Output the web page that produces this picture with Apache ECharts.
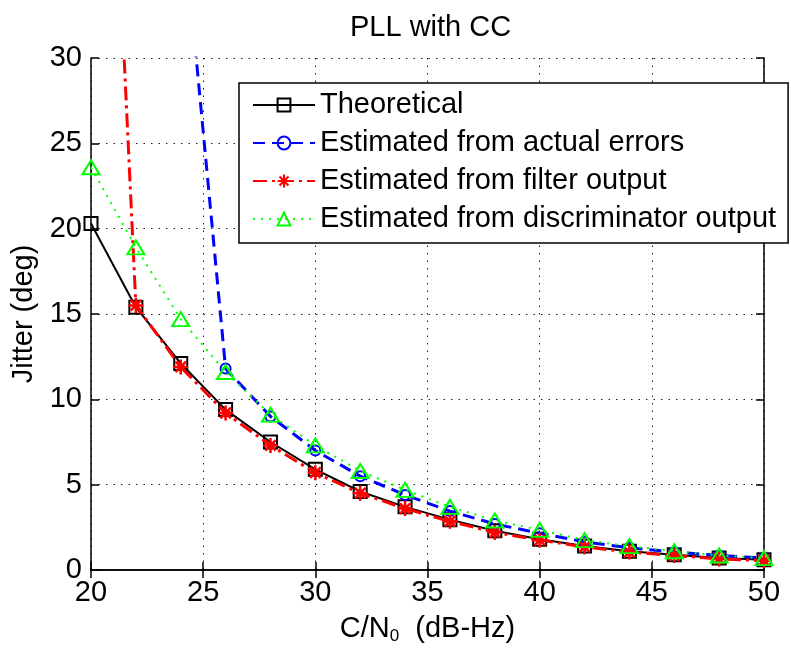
<!DOCTYPE html>
<html>
<head>
<meta charset="utf-8">
<script src="https://cdn.jsdelivr.net/npm/echarts@6/dist/echarts.min.js"></script>
<style>
  html, body { margin: 0; padding: 0; background: #fff; }
  #chart { width: 791px; height: 650px; }
</style>
</head>
<body>
<div id="chart"></div>
<script>
// C/N0 values (dB-Hz)
const cn0 = [20, 22, 24, 26, 28, 30, 32, 34, 36, 38, 40, 42, 44, 46, 48, 50];

// jitter (deg)
const theoretical = [20.3, 15.4, 12.1, 9.4, 7.5, 5.9, 4.6, 3.7, 2.95, 2.3, 1.8, 1.4, 1.1, 0.9, 0.7, 0.6];
const fromActualErrors = [null, null, 39.6, 11.8, 9.0, 7.0, 5.5, 4.4, 3.45, 2.7, 2.15, 1.65, 1.3, 1.05, 0.85, 0.7];
const fromFilterOutput = [71, 15.5, 11.9, 9.2, 7.3, 5.7, 4.5, 3.6, 2.85, 2.2, 1.75, 1.35, 1.05, 0.85, 0.65, 0.55];
const fromDiscriminator = [23.6, 18.9, 14.7, 11.6, 9.1, 7.3, 5.8, 4.7, 3.7, 2.9, 2.35, 1.75, 1.4, 1.1, 0.85, 0.7];

const seriesNames = [
  "Theoretical",
  "Estimated from actual errors",
  "Estimated from filter output",
  "Estimated from discriminator output",
];

const xTicks = { min: 20, max: 50, interval: 5 };
const yTicks = { min: 0, max: 30, interval: 5 };

const FONT = "'Liberation Sans', Arial, sans-serif";
const FS = 29;

// asterisk marker like MATLAB '*'
const asterisk =
  "path://M-1,-0.17L1,-0.17L1,0.17L-1,0.17Z" +
  "M-0.17,-1L0.17,-1L0.17,1L-0.17,1Z" +
  "M-0.82,-0.58L-0.58,-0.82L0.82,0.58L0.58,0.82Z" +
  "M0.58,-0.82L0.82,-0.58L-0.58,0.82L-0.82,0.58Z";

const pairs = (ys) => cn0.map((x, i) => [x, ys[i]]);

const chart = echarts.init(document.getElementById("chart"));

const gridLine = {
  show: true,
  lineStyle: { color: "#222", width: 1, type: [1.5, 6] },
};

const option = {
  backgroundColor: "#fff",
  animation: false,
  textStyle: { fontFamily: FONT },
  title: {
    text: "PLL with CC",
    left: 345,
    top: 8,
    textStyle: { fontFamily: FONT, fontSize: FS, fontWeight: "normal", color: "#000" },
  },
  grid: { left: 91, right: 27, top: 58, bottom: 79 },
  legend: {
    data: seriesNames,
    orient: "vertical",
    left: 239,
    top: 83,
    padding: [7, 12, 9, 13],
    itemGap: 8,
    itemWidth: 62,
    itemHeight: 16,
    backgroundColor: "#fff",
    borderColor: "#000",
    borderWidth: 1.5,
    textStyle: { fontFamily: FONT, fontSize: FS, color: "#000", lineHeight: 30 },
  },
  xAxis: [
    {
      type: "value",
      ...xTicks,
      name: "{n|C/N}{s|0}{n|  (dB-Hz)}",
      nameLocation: "middle",
      nameGap: 42,
      nameTextStyle: {
        rich: {
          n: { fontFamily: FONT, fontSize: FS, color: "#000" },
          s: { fontFamily: FONT, fontSize: 17, color: "#000", padding: [16, 0, 0, 0] },
        },
      },
      axisLine: { lineStyle: { color: "#000", width: 1.5 } },
      axisTick: { inside: true, length: 8, lineStyle: { color: "#000", width: 1.5 } },
      axisLabel: { fontFamily: FONT, fontSize: FS, color: "#000", margin: 8 },
      splitLine: gridLine,
    },
    {
      type: "value",
      ...xTicks,
      position: "top",
      axisLine: { lineStyle: { color: "#000", width: 1.5 } },
      axisTick: { inside: true, length: 8, lineStyle: { color: "#000", width: 1.5 } },
      axisLabel: { show: false },
      splitLine: { show: false },
    },
  ],
  yAxis: [
    {
      type: "value",
      ...yTicks,
      name: "Jitter (deg)",
      nameLocation: "middle",
      nameGap: 53,
      nameTextStyle: { fontFamily: FONT, fontSize: FS, color: "#000" },
      axisLine: { show: true, lineStyle: { color: "#000", width: 1.5 } },
      axisTick: { show: true, inside: true, length: 8, lineStyle: { color: "#000", width: 1.5 } },
      axisLabel: { fontFamily: FONT, fontSize: FS, color: "#000", margin: 9 },
      splitLine: gridLine,
    },
    {
      type: "value",
      ...yTicks,
      position: "right",
      axisLine: { show: true, lineStyle: { color: "#000", width: 1.5 } },
      axisTick: { show: true, inside: true, length: 8, lineStyle: { color: "#000", width: 1.5 } },
      axisLabel: { show: false },
      splitLine: { show: false },
    },
  ],
  series: [
    {
      name: seriesNames[0],
      type: "line",
      data: pairs(theoretical),
      symbol: "rect",
      symbolSize: 13,
      itemStyle: { color: "rgba(0,0,0,0)", borderColor: "#000", borderWidth: 2 },
      lineStyle: { color: "#000", width: 2 },
      z: 2,
    },
    {
      name: seriesNames[1],
      type: "line",
      data: pairs(fromActualErrors),
      connectNulls: false,
      symbol: "circle",
      symbolSize: 10,
      itemStyle: { color: "rgba(0,0,0,0)", borderColor: "#0000ff", borderWidth: 2 },
      lineStyle: { color: "#0000ff", width: 3, type: [12, 7] },
      z: 3,
    },
    {
      name: seriesNames[2],
      type: "line",
      data: pairs(fromFilterOutput),
      symbol: asterisk,
      symbolSize: 15,
      itemStyle: { color: "#ff0000", borderColor: "#ff0000", borderWidth: 0 },
      lineStyle: { color: "#ff0000", width: 3, type: [14, 5, 3, 5] },
      z: 4,
    },
    {
      name: seriesNames[3],
      type: "line",
      data: pairs(fromDiscriminator),
      symbol: "triangle",
      symbolSize: [17, 14],
      itemStyle: { color: "rgba(0,0,0,0)", borderColor: "#00ff00", borderWidth: 2 },
      lineStyle: { color: "#00ff00", width: 2, type: [2, 6] },
      z: 5,
    },
  ],
};

chart.setOption(option);
window.addEventListener("resize", () => chart.resize());
</script>
</body>
</html>
